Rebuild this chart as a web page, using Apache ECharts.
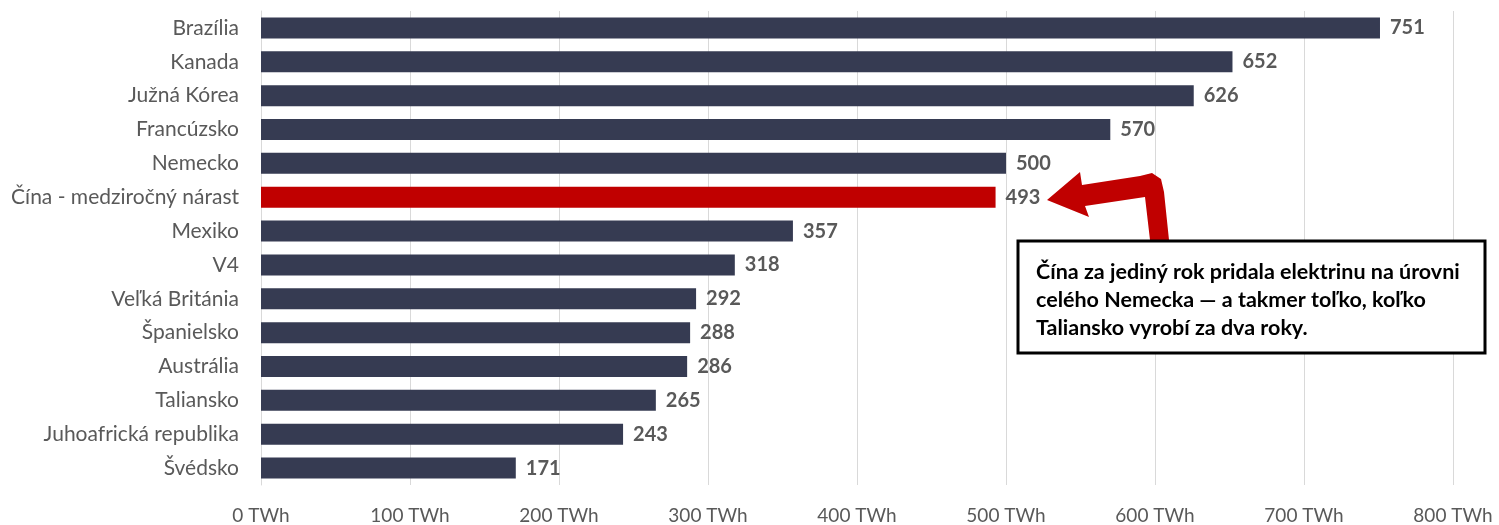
<!DOCTYPE html>
<html><head><meta charset="utf-8">
<script src="https://cdn.jsdelivr.net/npm/echarts@6/dist/echarts.min.js"></script>
<style>html,body{margin:0;padding:0;background:#fff}#c{width:1499px;height:525px}</style>
</head><body><div id="c"></div>
<script>
const categories = ["Brazília","Kanada","Južná Kórea","Francúzsko","Nemecko","Čína - medziročný nárast","Mexiko","V4","Veľká Británia","Španielsko","Austrália","Taliansko","Juhoafrická republika","Švédsko"];
const values = [751,652,626,570,500,493,357,318,292,288,286,265,243,171];
const highlight = "Čína - medziročný nárast";
const xTicks = [0,100,200,300,400,500,600,700,800];
const annotation = ["Čína za jediný rok pridala elektrinu na úrovni","celého Nemecka — a takmer toľko, koľko","Taliansko vyrobí za dva roky."];

const chart = echarts.init(document.getElementById('c'));
const font = 'Lato, "Open Sans", sans-serif';
chart.setOption({
  animation:false,
  grid:{left:261,right:46,top:11,bottom:38,containLabel:false},
  xAxis:{type:'value',min:xTicks[0],max:xTicks[xTicks.length-1],interval:100,
    axisLine:{show:false},axisTick:{show:false},
    splitLine:{lineStyle:{color:'#d9d9d9',width:1}},
    axisLabel:{color:'#595959',fontSize:19,fontFamily:font,margin:21,formatter:v=>v+' TWh'}},
  yAxis:{type:'category',data:categories,inverse:true,
    axisLine:{show:true,lineStyle:{color:'#d9d9d9'}},axisTick:{show:false},
    axisLabel:{color:'#595959',fontSize:21,fontFamily:font,margin:22}},
  series:[{type:'bar',barCategoryGap:'38%',
    data:values.map((v,i)=>({value:v,itemStyle:{color:categories[i]===highlight?'#c00000':'#363b52'}})),
    label:{show:true,position:'right',distance:10,color:'#595959',fontWeight:'bold',fontSize:20,fontFamily:font}}],
  graphic:[
    {type:'polygon',z:10,shape:{points:[[1047,200],[1080,172],[1082,185],[1140,176],[1152,173],[1161,179],[1164,192],[1169,240],[1150,240],[1145,197],[1085,206],[1089,217]]},style:{fill:'#c00000'}},
    {type:'rect',z:10,shape:{x:1018,y:241,width:467,height:112},style:{fill:'#fff',stroke:'#000',lineWidth:3}},
    {type:'text',z:11,left:1036,top:258,style:{text:annotation.join('\n'),font:'bold 21.5px '+font,fill:'#000',lineHeight:28}}
  ]
});
</script></body></html>
